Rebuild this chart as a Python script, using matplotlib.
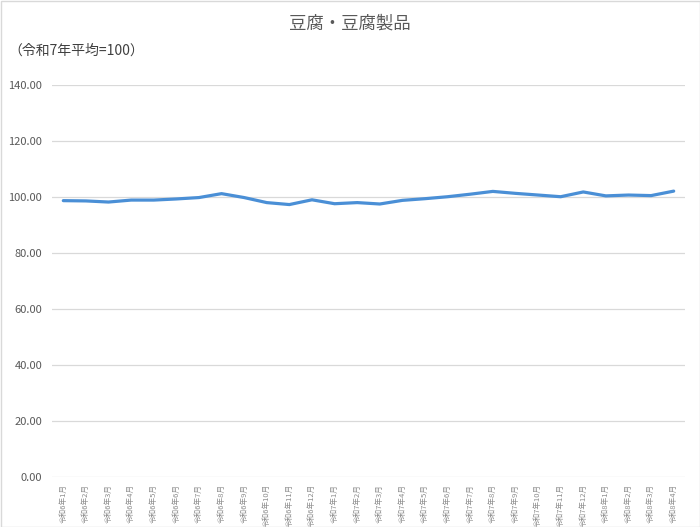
import matplotlib
matplotlib.use("Agg")
import matplotlib.pyplot as plt
from matplotlib.patches import Rectangle

plt.rcParams['font.family'] = ['Noto Sans CJK JP', 'DejaVu Sans']

months = (["令和6年%d月" % m for m in range(1, 13)] +
          ["令和7年%d月" % m for m in range(1, 13)] +
          ["令和8年%d月" % m for m in range(1, 5)])
values = [98.7, 98.6, 98.2, 98.9, 98.9, 99.3, 99.8, 101.2, 99.8, 98.0,
          97.3, 99.0, 97.6, 98.0, 97.5, 98.8, 99.4, 100.1, 101.0, 102.0,
          101.3, 100.7, 100.1, 101.8, 100.4, 100.7, 100.5, 102.1]
yticks = [0, 20, 40, 60, 80, 100, 120, 140]

fig = plt.figure(figsize=(7.0, 5.27), dpi=100)
ax = fig.add_axes([52/700, 1-477/527, 633/700, (477-85)/527])

x = list(range(len(values)))
ax.plot(x, values, color='#4a8fd6', linewidth=2.3, solid_capstyle='round', zorder=3)
ax.set_xlim(-0.5, len(values) - 0.5)
ax.set_ylim(0, 140)
ax.set_yticks(yticks)
ax.set_yticklabels(["%.2f" % v for v in yticks], fontsize=8, color='#595959')
ax.set_xticks(x)
ax.set_xticklabels(months, rotation=90, fontsize=5.5, color='#8c8c8c')
ax.tick_params(axis='both', length=0)
ax.tick_params(axis='y', pad=7)
ax.tick_params(axis='x', pad=5)
ax.grid(axis='y', color='#d9d9d9', linewidth=0.9)
ax.set_axisbelow(True)
for s in ax.spines.values():
    s.set_visible(False)

fig.text(0.5, 1-24/527, "豆腐・豆腐製品", ha='center', va='center', fontsize=12.5, color='#595959')
fig.text(8/700, 1-51/527, "（令和7年平均=100）", ha='left', va='center', fontsize=10, color='#404040')

fig.patches.append(Rectangle((0.5/700, 0.5/527), 1-1/700, 1-1/527, transform=fig.transFigure,
                             fill=False, edgecolor='#d9d9d9', linewidth=1))

fig.savefig("out.png", dpi=100)
